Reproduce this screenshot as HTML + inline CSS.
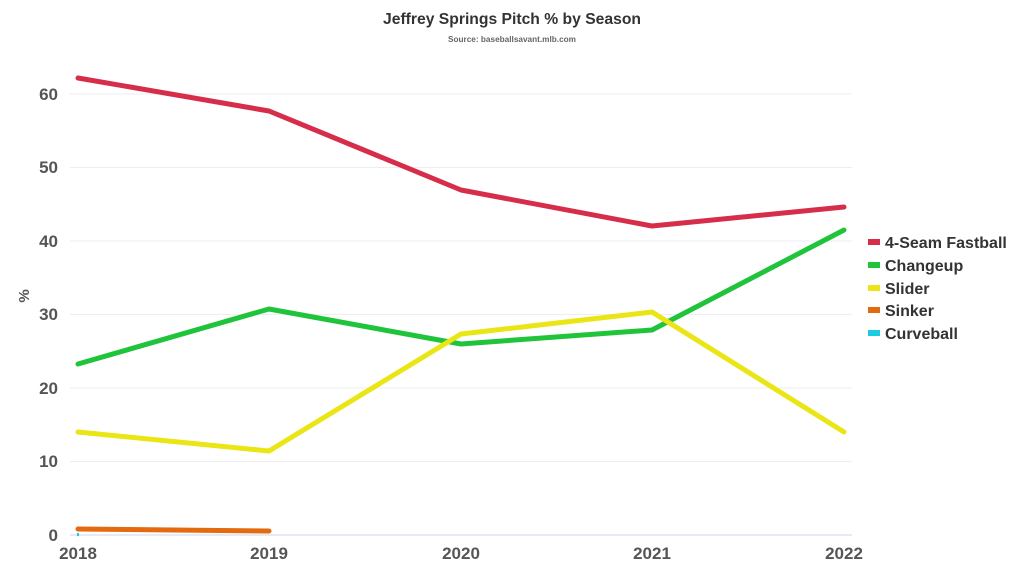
<!DOCTYPE html>
<html><head><meta charset="utf-8"><style>
body{margin:0;background:#fff;}
svg{display:block;font-family:"Liberation Sans Narrow","Liberation Sans",sans-serif;font-weight:bold;}
</style></head><body>
<svg width="1024" height="576" viewBox="0 0 1024 576" xmlns="http://www.w3.org/2000/svg">
<text x="512" y="24" text-anchor="middle" font-size="16" fill="#333" textLength="258" lengthAdjust="spacingAndGlyphs">Jeffrey Springs Pitch % by Season</text>
<text x="512" y="42" text-anchor="middle" font-size="8" fill="#666" textLength="128" lengthAdjust="spacingAndGlyphs">Source: baseballsavant.mlb.com</text>
<g stroke="#eeeeee" stroke-width="1">
<line x1="70" x2="852" y1="94" y2="94"/><line x1="70" x2="852" y1="167.5" y2="167.5"/>
<line x1="70" x2="852" y1="241" y2="241"/><line x1="70" x2="852" y1="314.5" y2="314.5"/>
<line x1="70" x2="852" y1="388" y2="388"/><line x1="70" x2="852" y1="461.5" y2="461.5"/>
</g>
<line x1="70" x2="852" y1="535" y2="535" stroke="#ccd6eb" stroke-width="1"/>
<g font-size="17" fill="#555" text-anchor="end">
<text x="58" y="100">60</text><text x="58" y="173">50</text><text x="58" y="247">40</text>
<text x="58" y="320">30</text><text x="58" y="394">20</text><text x="58" y="467">10</text><text x="58" y="541">0</text>
</g>
<g font-size="17" fill="#555" text-anchor="middle">
<text x="78" y="559">2018</text><text x="269" y="559">2019</text><text x="461" y="559">2020</text><text x="652" y="559">2021</text><text x="844" y="559">2022</text>
</g>
<text x="0" y="0" font-size="15" fill="#555" transform="translate(29,296) rotate(-90)" text-anchor="middle">%</text>
<g fill="none" stroke-width="5" stroke-linecap="round" stroke-linejoin="round">
<polyline stroke="#d62d4a" points="78,78 269,111 461,190 652,226 844,207"/>
<polyline stroke="#1fc43a" points="78,364 269,309 461,344 652,330 844,230"/>
<polyline stroke="#eae514" points="78,432 269,451 461,334 652,312 844,432"/>
<polyline stroke="#e36a0e" points="78,529 269,531"/>
</g>
<line x1="78" y1="533" x2="78" y2="536" stroke="#1ccbe0" stroke-width="2"/>
<g font-size="16" fill="#333">
<rect x="868" y="239" width="12" height="6" fill="#d62d4a"/><text x="885" y="248">4-Seam Fastball</text>
<rect x="868" y="262" width="12" height="6" fill="#1fc43a"/><text x="885" y="271">Changeup</text>
<rect x="868" y="285" width="12" height="6" fill="#eae514"/><text x="885" y="294">Slider</text>
<rect x="868" y="307" width="12" height="6" fill="#e36a0e"/><text x="885" y="316">Sinker</text>
<rect x="868" y="330" width="12" height="6" fill="#1ccbe0"/><text x="885" y="339">Curveball</text>
</g>
</svg>
</body></html>
